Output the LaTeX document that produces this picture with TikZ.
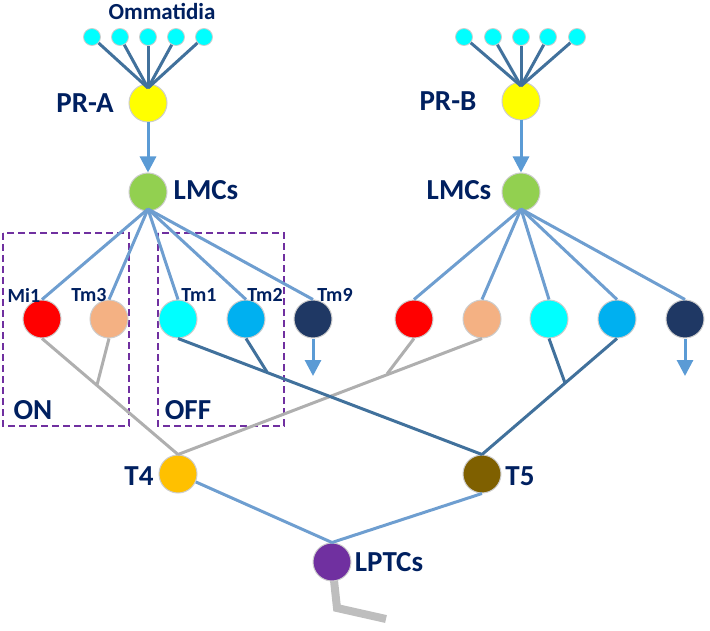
\documentclass[tikz,border=0pt]{standalone}
\usepackage{fontspec}
\setmainfont{Carlito}
\usetikzlibrary{arrows.meta}
\definecolor{txt}{RGB}{0,32,96}
\definecolor{darkln}{RGB}{65,113,156}
\definecolor{lightln}{RGB}{110,158,208}
\definecolor{arrowc}{RGB}{91,155,213}
\definecolor{grayln}{RGB}{175,175,175}
\definecolor{tailc}{RGB}{190,190,190}
\definecolor{rimc}{RGB}{205,205,205}
\definecolor{boxc}{RGB}{112,48,160}
\definecolor{cPR}{RGB}{255,255,0}
\definecolor{cLMC}{RGB}{146,208,80}
\definecolor{cMi}{RGB}{255,0,0}
\definecolor{cTmiii}{RGB}{244,177,131}
\definecolor{cTmi}{RGB}{0,255,255}
\definecolor{cTmii}{RGB}{0,176,240}
\definecolor{cTmix}{RGB}{31,56,100}
\definecolor{cTiv}{RGB}{255,192,0}
\definecolor{cTv}{RGB}{127,96,0}
\definecolor{cLP}{RGB}{112,48,160}
\tikzset{
  cell/.style={circle,draw=rimc,line width=1pt,minimum size=38pt,inner sep=0pt},
  omm/.style={circle,draw=rimc,line width=0.8pt,fill=cTmi,minimum size=17pt,inner sep=0pt},
  big/.style={text=txt,font=\bfseries\fontsize{29}{30}\selectfont,inner sep=0pt},
  small/.style={text=txt,font=\bfseries\fontsize{20}{21}\selectfont,inner sep=0pt},
  mid/.style={text=txt,font=\bfseries\fontsize{23}{24}\selectfont,inner sep=0pt},
  dk/.style={draw=darkln,line width=3pt},
  lt/.style={draw=lightln,line width=3pt},
  gr/.style={draw=grayln,line width=3pt},
  arr/.style={draw=arrowc,line width=3pt,-{Triangle[width=16pt,length=16pt]}},
  dbox/.style={draw=boxc,line width=1.2pt,dash pattern=on 7pt off 4pt},
}
\begin{document}
\begin{tikzpicture}[x=1pt,y=-1pt]
\useasboundingbox (0,0) rectangle (710,631);
% dashed boxes
\draw[dbox] (3,233) rectangle (129,426);
\draw[dbox] (158,233) rectangle (284,426);
% ---------- column A ----------
\node[mid] (omtxt) at (162,12) {Ommatidia};
\foreach \i/\x in {1/92,2/120,3/148,4/176,5/204}{
  \node[omm] (oa\i) at (\x,37) {};
}
\node[cell,fill=cPR] (pra) at (148,103) {};
\node[big] (pratxt) at (85,103) {PR-A};
\coordinate (ca) at (148,88);
\foreach \i in {1,...,5}{ \draw[dk] (oa\i) -- (ca); }
\node[cell,fill=cLMC] (lmca) at (148,192) {};
\node[big] (lmcatxt) at (206,190) {LMCs};
\draw[arr] (pra) -- (lmca);
% ---------- column B ----------
\foreach \i/\x in {1/464,2/493,3/521,4/548,5/577}{
  \node[omm] (ob\i) at (\x,37) {};
}
\node[cell,fill=cPR] (prb) at (521,101) {};
\node[big] (prbtxt) at (448,101) {PR-B};
\coordinate (cb) at (521,86);
\foreach \i in {1,...,5}{ \draw[dk] (ob\i) -- (cb); }
\node[cell,fill=cLMC] (lmcb) at (521,192) {};
\node[big] (lmcbtxt) at (459,190) {LMCs};
\draw[arr] (prb) -- (lmcb);
% ---------- second order row ----------
\node[cell,fill=cMi] (mia) at (42,319) {};
\node[cell,fill=cTmiii] (tm3a) at (109,319) {};
\node[cell,fill=cTmi] (tm1a) at (178,319) {};
\node[cell,fill=cTmii] (tm2a) at (246,319) {};
\node[cell,fill=cTmix] (tm9a) at (313,319) {};
\node[cell,fill=cMi] (mib) at (414,319) {};
\node[cell,fill=cTmiii] (tm3b) at (482,319) {};
\node[cell,fill=cTmi] (tm1b) at (549,319) {};
\node[cell,fill=cTmii] (tm2b) at (617,319) {};
\node[cell,fill=cTmix] (tm9b) at (685,319) {};
\node[small] (mitxt) at (24,295) {Mi1};
\node[small] (tm3txt) at (89,295) {Tm3};
\node[small] (tm1txt) at (199,295) {Tm1};
\node[small] (tm2txt) at (265,295) {Tm2};
\node[small] (tm9txt) at (335,295) {Tm9};
\node[big] (ontxt) at (33,410) {ON};
\node[big] (offtxt) at (188,410) {OFF};
\coordinate (la) at (148,209);
\coordinate (lb) at (521,209);
\foreach \n in {mia,tm3a,tm1a,tm2a,tm9a}{ \draw[lt] (la) -- (\n.north); }
\foreach \n in {mib,tm3b,tm1b,tm2b,tm9b}{ \draw[lt] (lb) -- (\n.north); }
\coordinate (ta) at (313,376);
\coordinate (tb) at (685,376);
\draw[arr] (tm9a.south) -- (ta);
\draw[arr] (tm9b.south) -- (tb);
% ---------- third order ----------
\coordinate (lpc) at (332,562);
\coordinate (k1) at (337,608);
\coordinate (k2) at (386,619);
\draw[draw=tailc,line width=8pt] (lpc) -- (k1) -- (k2);
\node[cell,fill=cTiv] (t4) at (178,474) {};
\node[cell,fill=cTv] (t5) at (482,474) {};
\node[big] (t4txt) at (139,476) {T4};
\node[big] (t5txt) at (520,476) {T5};
\node[cell,fill=cLP] (lp) at (lpc) {};
\node[big] (lptxt) at (389,562) {LPTCs};
% ON pathway (gray)
\coordinate (j1) at (97,385);
\coordinate (j2) at (387,374);
\draw[gr] (mia.south) -- (t4.north);
\draw[gr] (tm3a.south) -- (j1);
\draw[gr] (tm3b.south) -- (t4.north);
\draw[gr] (mib.south) -- (j2);
% OFF pathway (dark blue)
\coordinate (j3) at (267,372);
\coordinate (j4) at (565,383);
\draw[dk] (tm1a.south) -- (t5.north);
\draw[dk] (tm2a.south) -- (j3);
\draw[dk] (tm2b.south) -- (t5.north);
\draw[dk] (tm1b.south) -- (j4);
% to LPTCs
\draw[lt] (t4) -- (lp.north);
\draw[lt] (t5.south) -- (lp.north);
\end{tikzpicture}
\end{document}
